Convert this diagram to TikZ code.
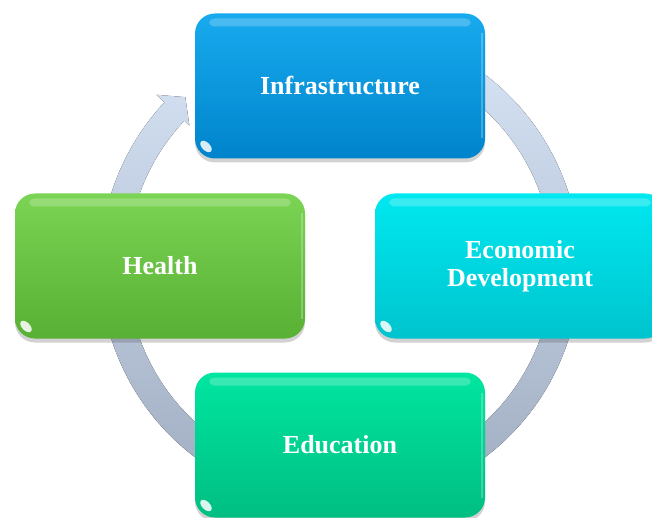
\documentclass[tikz,border=0pt]{standalone}
\usepackage{fontspec}
\setmainfont{Liberation Serif}
\usetikzlibrary{shadows}

\definecolor{infraTop}{RGB}{24,170,238}
\definecolor{infraBot}{RGB}{0,132,204}
\definecolor{econTop}{RGB}{0,232,240}
\definecolor{econBot}{RGB}{0,196,206}
\definecolor{eduTop}{RGB}{0,230,160}
\definecolor{eduBot}{RGB}{0,190,130}
\definecolor{healthTop}{RGB}{124,212,84}
\definecolor{healthBot}{RGB}{88,176,52}
\definecolor{ringTop}{RGB}{214,228,246}
\definecolor{ringBot}{RGB}{156,168,188}

\begin{document}
\begin{tikzpicture}[x=1pt,y=-1pt,
  panel/.style={
    rounded corners=20pt,
    minimum width=290pt, minimum height=145pt,
    text=white, align=center,
    font=\bfseries\fontsize{26}{28}\selectfont,
    drop shadow={shadow xshift=0pt, shadow yshift=-4pt, opacity=0.25, fill=black!70},
    path picture={
      % glossy band along the top edge
      \fill[white, opacity=0.22, rounded corners=5pt]
        ([xshift=14pt,yshift=-5pt]path picture bounding box.north west) rectangle
        ([xshift=-14pt,yshift=-13pt]path picture bounding box.north east);
      % thin light rim on the right side
      \fill[white, opacity=0.25, sharp corners]
        ([xshift=-4pt,yshift=-20pt]path picture bounding box.north east) rectangle
        ([xshift=-2pt,yshift=20pt]path picture bounding box.south east);
      % bright spot in the lower left corner
      \fill[white, opacity=0.85]
        ([xshift=11pt,yshift=12pt]path picture bounding box.south west)
        ellipse[x radius=7pt, y radius=4pt, rotate=-45];
    }
  },
  ring/.style={top color=ringTop, bottom color=ringBot}
]
\useasboundingbox (0,0) rectangle (652,518);
\clip (0,0) rectangle (652,518);
\fill[white] (0,0) rectangle (652,518);

\coordinate (hub) at (340,266);

% circular arrow running clockwise behind the four boxes
\fill[ring]
  ([shift={(-70:240)}]hub) arc[start angle=-70, end angle=223, radius=240]
  -- ([shift={(223:251)}]hub)
  -- ([shift={(227.5:229)}]hub)
  -- ([shift={(223:206)}]hub)
  -- ([shift={(223:213)}]hub)
  arc[start angle=223, end angle=-70, radius=213]
  -- cycle;

\node[panel, top color=infraTop, bottom color=infraBot] (infra) at (340,86) {Infrastructure};
\node[panel, top color=econTop, bottom color=econBot] (econ) at (520,266) {Economic\\Development};
\node[panel, top color=eduTop, bottom color=eduBot] (edu) at (340,445) {Education};
\node[panel, top color=healthTop, bottom color=healthBot] (health) at (160,266) {Health};
\end{tikzpicture}
\end{document}
